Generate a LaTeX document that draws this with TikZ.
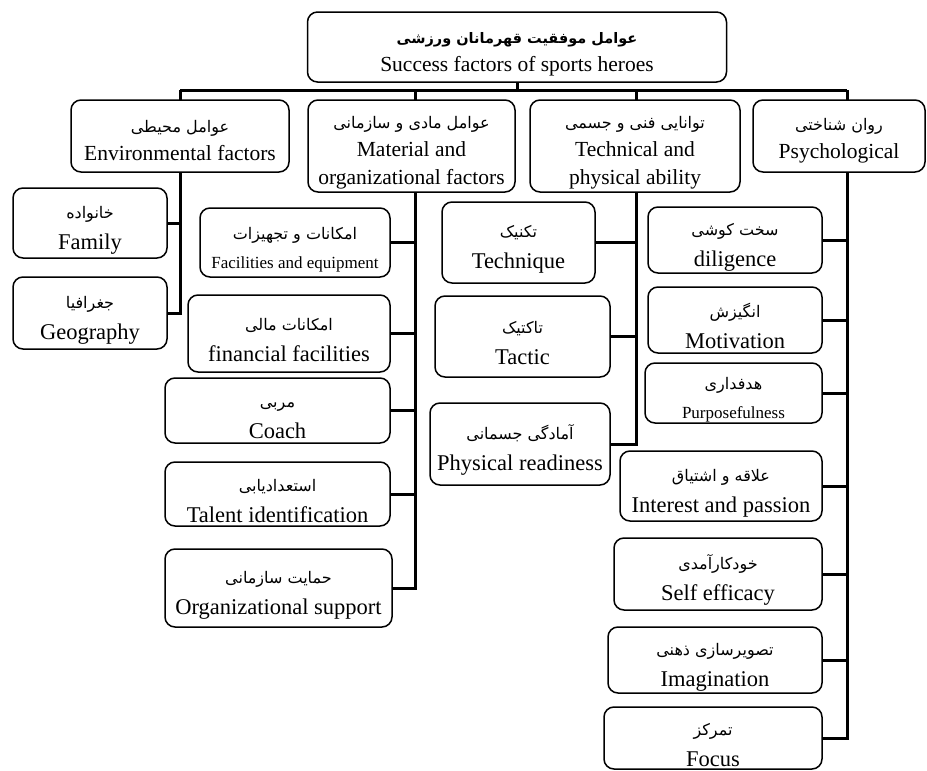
\documentclass[tikz,border=0pt]{standalone}
\usepackage{fontspec}
\setmainfont{Liberation Serif}
\newfontfamily\fafont[Script=Arabic]{DejaVu Sans}
\TeXXeTstate=1
\usetikzlibrary{positioning, backgrounds}
\newcommand{\fatext}[2][26pt]{{\fafont\fontsize{16}{18}\selectfont\rule{0pt}{#1}\beginR #2\endR}}
\newcommand{\fabold}[1]{{\fafont\bfseries\fontsize{14.5}{16}\selectfont\rule{0pt}{26pt}\beginR #1\endR}}

\begin{document}
\begin{tikzpicture}[x=1pt, y=-1pt,
  box/.style={draw, line width=1.5pt, rounded corners=10pt, fill=white,
    align=center, inner sep=0pt, font=\fontsize{22.5}{31}\selectfont},
  head/.style={box, font=\fontsize{21.5}{28}\selectfont},
  small/.style={box, font=\fontsize{17}{29}\selectfont},
  link/.style={line width=3pt}
]
  \useasboundingbox (0,0) rectangle (927,771);

  % Root
  \node[head, minimum width=419pt, minimum height=70pt] (root) at (517,47)
    {\fabold{عوامل موفقیت قهرمانان ورزشی}\\Success factors of sports heroes};

  % First level
  \node[head, minimum width=218pt, minimum height=72pt] (env) at (180,136)
    {\fatext[22pt]{عوامل محیطی}\\Environmental factors};
  \node[head, minimum width=207pt, minimum height=92pt] (mat) at (411.5,146)
    {\fatext{عوامل مادی و سازمانی}\\Material and\\organizational factors};
  \node[head, minimum width=210pt, minimum height=92pt] (tech) at (635,146)
    {\fatext{توانایی فنی و جسمی}\\Technical and\\physical ability};
  \node[head, minimum width=172pt, minimum height=72pt] (psy) at (839,136)
    {\fatext[22pt]{روان شناختی}\\Psychological};

  % Environmental factors
  \node[box, minimum width=154pt, minimum height=70pt] (fam) at (90,223)
    {\fatext{خانواده}\\Family};
  \node[box, minimum width=154pt, minimum height=72pt] (geo) at (90,313)
    {\fatext{جغرافیا}\\Geography};

  % Material and organizational factors
  \node[small, minimum width=190pt, minimum height=69pt] (fac) at (295,242.5)
    {\fatext{امکانات و تجهیزات}\\Facilities and equipment};
  \node[box, minimum width=202pt, minimum height=77pt] (fin) at (289,333.5)
    {\fatext{امکانات مالی}\\financial facilities};
  \node[box, minimum width=225pt, minimum height=65pt] (coach) at (277.5,410.5)
    {\fatext{مربی}\\Coach};
  \node[box, minimum width=225pt, minimum height=64pt] (tal) at (277.5,494)
    {\fatext{استعدادیابی}\\Talent identification};
  \node[box, minimum width=227pt, minimum height=78pt] (org) at (278.5,588)
    {\fatext{حمایت سازمانی}\\Organizational support};

  % Technical and physical ability
  \node[box, minimum width=153pt, minimum height=81pt] (tnq) at (518.5,242.5)
    {\fatext{تکنیک}\\Technique};
  \node[box, minimum width=175pt, minimum height=81pt] (tac) at (522.5,336.5)
    {\fatext{تاکتیک}\\Tactic};
  \node[box, minimum width=180pt, minimum height=82pt] (phy) at (520,444)
    {\fatext{آمادگی جسمانی}\\Physical readiness};

  % Psychological
  \node[box, minimum width=174pt, minimum height=66pt] (dil) at (735,240)
    {\fatext{سخت کوشی}\\diligence};
  \node[box, minimum width=174pt, minimum height=66pt] (mot) at (735,320)
    {\fatext{انگیزش}\\Motivation};
  \node[small, minimum width=177pt, minimum height=60pt] (pur) at (733.5,393)
    {\fatext{هدفداری}\\Purposefulness};
  \node[box, minimum width=202pt, minimum height=70pt] (int) at (721,486)
    {\fatext{علاقه و اشتیاق}\\Interest and passion};
  \node[box, minimum width=208pt, minimum height=72pt] (sef) at (718,574)
    {\fatext{خودکارآمدی}\\Self efficacy};
  \node[box, minimum width=214pt, minimum height=66pt] (img) at (715,660)
    {\fatext{تصویرسازی ذهنی}\\Imagination};
  \node[box, minimum width=218pt, minimum height=62pt] (foc) at (713,738)
    {\fatext{تمرکز}\\Focus};

  % Connectors
  \begin{scope}[on background layer]
    \coordinate (bEnv) at (180,90);
    \coordinate (bMat) at (415,90);
    \coordinate (bTech) at (636,90);
    \coordinate (bPsy) at (847,90);
    \draw[link] (bEnv) -- (bPsy);
    \draw[link] (root.south) -- (root.south |- bEnv);

    \draw[link] (bEnv) |- (geo.east);
    \draw[link] (bEnv |- fam.east) -- (fam.east);

    \draw[link] (bMat) |- (org.east);
    \foreach \n in {fac, fin, coach, tal}
      \draw[link] (bMat |- \n.east) -- (\n.east);

    \draw[link] (bTech) |- (phy.east);
    \foreach \n in {tnq, tac}
      \draw[link] (bTech |- \n.east) -- (\n.east);

    \draw[link] (bPsy) |- (foc.east);
    \foreach \n in {dil, mot, pur, int, sef, img}
      \draw[link] (bPsy |- \n.east) -- (\n.east);
  \end{scope}
\end{tikzpicture}
\end{document}
